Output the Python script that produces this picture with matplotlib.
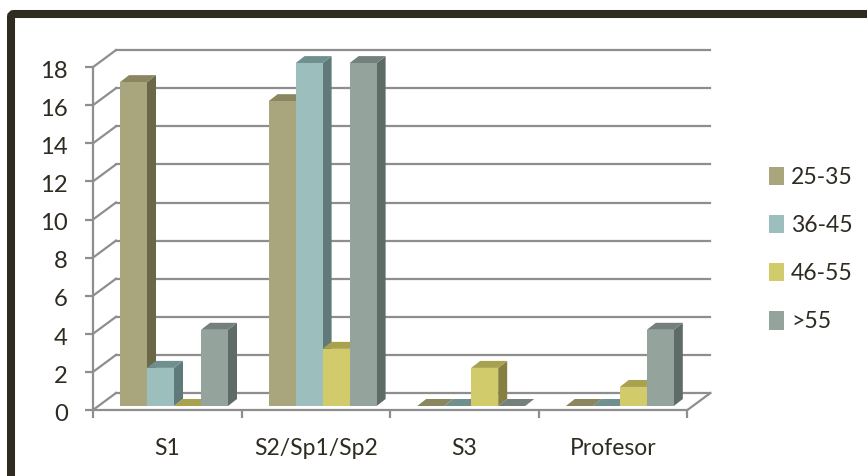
import matplotlib
matplotlib.use("Agg")
import matplotlib.pyplot as plt
from matplotlib.patches import Polygon, Rectangle, FancyBboxPatch
from matplotlib.transforms import ScaledTranslation

categories = ["S1", "S2/Sp1/Sp2", "S3", "Profesor"]
series_names = ["25-35", "36-45", "46-55", ">55"]
v_25_35 = [17, 16, 0, 0]
v_36_45 = [2, 18, 0, 0]
v_46_55 = [0, 3, 2, 1]
v_55 = [4, 18, 0, 4]
series = [v_25_35, v_36_45, v_46_55, v_55]
front = ["#A9A57C", "#9CBEBD", "#D2CB6C", "#95A39D"]
top = ["#8A8660", "#70908F", "#A8A24F", "#73807B"]
side = ["#6B6849", "#5F7A79", "#858042", "#5F6B66"]
yticks = list(range(0, 20, 2))

W, H = 867, 476
plt.rcParams["font.family"] = ["Lato", "DejaVu Sans"]
fig = plt.figure(figsize=(W / 100, H / 100), dpi=100)

bg = fig.add_axes([0, 0, 1, 1], zorder=0)
bg.set_xlim(0, W); bg.set_ylim(H, 0); bg.axis("off")
bg.add_patch(FancyBboxPatch((11, 14), W + 20, H + 20,
                            boxstyle="round,pad=0,rounding_size=3",
                            fc="white", ec="#2F2B20", lw=5.8))

# one category = 148.6 px, one value = 19.05 px
ux, uy = 148.6, 19.05
left_px, bottom_px, right_px, top_px = 93, 410, 711, 49
ax = fig.add_axes([left_px / W, 1 - bottom_px / H,
                   (right_px - left_px) / W, (bottom_px - top_px) / H], zorder=1)
ax.set_xlim(0, (right_px - left_px) / ux)
ax.set_ylim(0, (bottom_px - top_px) / uy)
ax.patch.set_alpha(0)

dx, dy = 23 / ux, 17 / uy        # wall depth
GRID = "#8E8E8E"
LW = 1.6
for v in yticks:
    ax.plot([dx, 4 + dx], [v + dy, v + dy], color=GRID, lw=LW, zorder=1, clip_on=False)
    ax.plot([0, dx], [v, v + dy], color=GRID, lw=LW, zorder=1, clip_on=False)
ax.plot([4, 4 + dx], [0, dy], color=GRID, lw=LW, zorder=1, clip_on=False)

# bars
bw = 27 / ux
bdx, bdy = 9 / ux, 7 / uy
x0, y0 = 27 / ux, 4 / uy
for c in range(len(categories)):
    for s, vals in enumerate(series):
        v = vals[c]
        xl = c + x0 + s * bw
        xr = xl + bw
        b, t = y0, y0 + v
        z = 3 + c * 10 + s
        ax.add_patch(Polygon([(xr, b), (xr + bdx, b + bdy), (xr + bdx, t + bdy), (xr, t)],
                             fc=side[s], ec="none", zorder=z, clip_on=False))
        ax.add_patch(Polygon([(xl, t), (xl + bdx, t + bdy), (xr + bdx, t + bdy), (xr, t)],
                             fc=top[s], ec="none", zorder=z, clip_on=False))
        if v > 0:
            ax.add_patch(Rectangle((xl, b), bw, v, fc=front[s], ec="none", zorder=z + 0.5))

# axes
for k in ("top", "right"):
    ax.spines[k].set_visible(False)
for k in ("left", "bottom"):
    ax.spines[k].set_color(GRID)
    ax.spines[k].set_linewidth(LW)
    ax.spines[k].set_zorder(2)
ax.spines["left"].set_bounds(0, 18)
ax.spines["bottom"].set_bounds(0, 4)
ax.set_yticks(yticks)
ax.tick_params(axis="y", length=6, width=LW, color=GRID, labelsize=17.2,
               labelcolor="#2F2B20", pad=12)
shift = ScaledTranslation(0, -1.6 / 72, fig.dpi_scale_trans)
for lab in ax.get_yticklabels():
    lab.set_transform(lab.get_transform() + shift)
ax.set_xticks(range(5))
ax.set_xticklabels([])
ax.tick_params(axis="x", which="major", length=6, width=LW, color=GRID)
ax.set_xticks([i + 0.5 for i in range(4)], minor=True)
ax.set_xticklabels(categories, minor=True)
ax.tick_params(axis="x", which="minor", length=0, labelsize=16.5, labelcolor="#2F2B20", pad=20)

handles = [Rectangle((0, 0), 1, 1, fc=c, ec="none") for c in front]
leg = fig.legend(handles, series_names, loc="center left",
                 bbox_to_anchor=(769 / W, 1 - 249.5 / H), frameon=False,
                 fontsize=16.6, labelcolor="#2F2B20", handlelength=0.65, handleheight=0.85,
                 handletextpad=0.3, labelspacing=1.17, borderpad=0, borderaxespad=0)
leg.set_zorder(5)

fig.savefig("out.png", dpi=100)
